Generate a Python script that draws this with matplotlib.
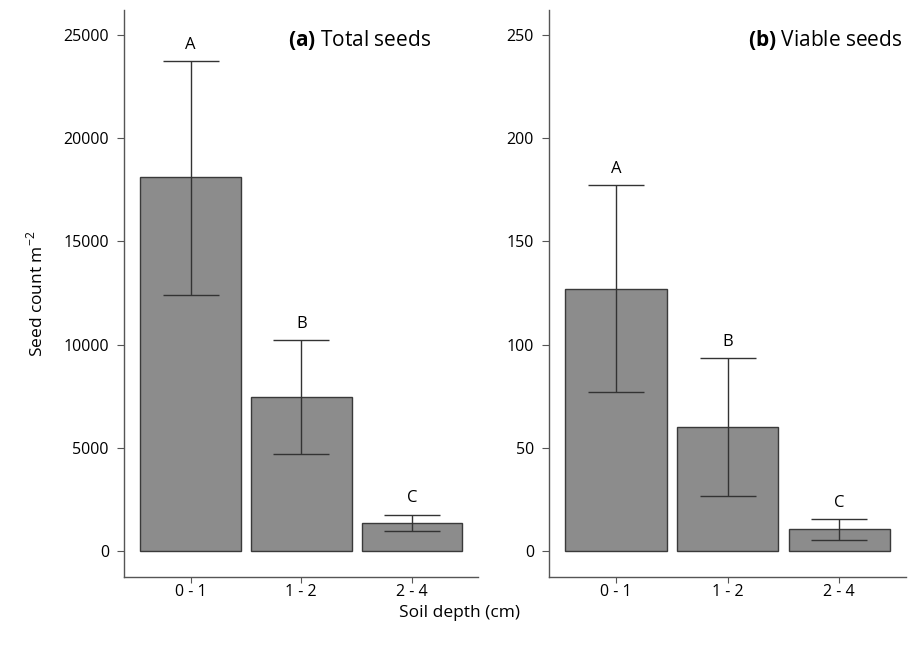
import matplotlib
matplotlib.use("Agg")
import matplotlib.pyplot as plt
import numpy as np

plt.rcParams['font.family'] = ['Open Sans', 'DejaVu Sans']
plt.rcParams['mathtext.fontset'] = 'custom'
plt.rcParams['mathtext.rm'] = 'Open Sans'
plt.rcParams['mathtext.bf'] = 'Open Sans:bold'

categories = ["0 - 1", "1 - 2", "2 - 4"]
total_mean = [18100, 7480, 1370]
total_upper = [23720, 10200, 1760]
total_lower = [12380, 4720, 990]
total_letters = ["A", "B", "C"]

viable_mean = [127, 60, 10.5]
viable_upper = [177, 93.5, 15.5]
viable_lower = [77, 26.5, 5.5]
viable_letters = ["A", "B", "C"]

fig = plt.figure(figsize=(9.2, 6.5), dpi=100)
ax1 = fig.add_axes([0.135, 0.112, 0.385, 0.873])
ax2 = fig.add_axes([0.597, 0.112, 0.388, 0.873])

bar_color = "#8c8c8c"
edge = "#3a3a3a"

def draw(ax, mean, upper, lower, letters, ylim, yticks, title_b, title_t, tx):
    x = np.arange(1, len(categories) + 1)
    ax.bar(x, mean, width=0.91, color=bar_color, edgecolor=edge, linewidth=1.0)
    m = np.array(mean); u = np.array(upper); l = np.array(lower)
    ax.errorbar(x, m, yerr=[m - l, u - m], fmt='none', ecolor="#333333",
                elinewidth=1.0, capsize=20, capthick=1.0)
    for xi, ui, lab in zip(x, u, letters):
        ax.annotate(lab, (xi, ui), xytext=(0, 6), textcoords='offset points',
                    ha='center', va='bottom', fontsize=12)
    ax.set_xlim(0.4, 3.6)
    ax.set_ylim(*ylim)
    ax.set_yticks(yticks)
    ax.set_xticks(x)
    ax.set_xticklabels(categories)
    for s in ['top', 'right']:
        ax.spines[s].set_visible(False)
    for s in ['left', 'bottom']:
        ax.spines[s].set_color("#555555")
        ax.spines[s].set_linewidth(1.0)
    ax.tick_params(axis='y', direction='out', length=5, color="#555555",
                   labelsize=11.5, pad=6)
    ax.tick_params(axis='x', direction='out', length=4, color="#555555",
                   labelsize=11.5, pad=1)
    ax.text(tx, 0.947, r"$\mathbf{" + title_b + "}$ " + title_t,
            transform=ax.transAxes, ha='right', va='center', fontsize=15)

draw(ax1, total_mean, total_upper, total_lower, total_letters,
     (-1260, 26200), [0, 5000, 10000, 15000, 20000, 25000], "(a)", "Total seeds", 0.866)
draw(ax2, viable_mean, viable_upper, viable_lower, viable_letters,
     (-12.6, 262), [0, 50, 100, 150, 200, 250], "(b)", "Viable seeds", 0.99)

ax1.set_ylabel(r"Seed count m$^{\mathregular{-2}}$", fontsize=12.5, labelpad=12)
fig.text(0.5, 0.057, "Soil depth (cm)", ha='center', va='center', fontsize=12.5)

fig.savefig("out.png", dpi=100)
